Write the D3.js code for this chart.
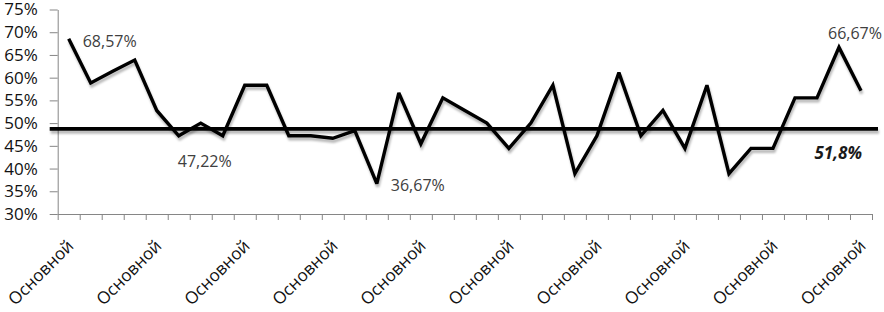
<!DOCTYPE html>
<html>
<head>
<meta charset="utf-8">
<script src="https://cdn.jsdelivr.net/npm/d3@7"></script>
<style>
  html, body { margin: 0; padding: 0; background: #fff; }
  svg { display: block; }
</style>
</head>
<body>
<div id="chart"></div>
<script>
// ---- data ----
const categoryLabel = "Основной";
const categories = Array.from({length: 37}, () => categoryLabel);
const values = [68.57, 58.82, 61.40, 63.89, 52.78, 47.22, 50.00, 47.22, 58.33, 58.33,
                47.22, 47.22, 46.67, 48.33, 36.67, 56.67, 45.45, 55.56, 52.78, 50.00,
                44.44, 50.00, 58.33, 38.89, 47.22, 61.11, 47.22, 52.78, 44.44, 58.33,
                38.89, 44.44, 44.44, 55.56, 55.56, 66.67, 57.14];
const yTicks = [30, 35, 40, 45, 50, 55, 60, 65, 70, 75];
const labelEvery = 4;
const meanLineValue = 48.75;
const meanLabel = "51,8%";
const pointLabelIndex = [0, 5, 14, 35];
const pointLabelText = ["68,57%", "47,22%", "36,67%", "66,67%"];

// ---- layout ----
const W = 884, H = 312;
const plot = {left: 57.7, right: 872, top: 9.5, bottom: 214};
const FONT = "'Open Sans', 'Liberation Sans', sans-serif";

const svg = d3.select("#chart").append("svg").attr("width", W).attr("height", H);

const defs = svg.append("defs");
const f = defs.append("filter").attr("id", "shadow")
  .attr("filterUnits", "userSpaceOnUse")
  .attr("x", 0).attr("y", 0).attr("width", W).attr("height", H);
f.append("feDropShadow").attr("dx", 1).attr("dy", 3).attr("stdDeviation", 1.3)
  .attr("flood-color", "#000").attr("flood-opacity", 0.28);

const x = d3.scaleBand().domain(d3.range(categories.length)).range([plot.left, plot.right]).padding(0);
const xEdge = d3.scaleLinear().domain([0, categories.length]).range([plot.left, plot.right]);
const y = d3.scaleLinear().domain([30, 75]).range([plot.bottom, plot.top]);
const cx = i => x(i) + x.bandwidth() / 2;

// y axis
const yAxis = svg.append("g").attr("transform", `translate(${plot.left},0)`)
  .call(d3.axisLeft(y).tickValues(yTicks).tickSize(8).tickSizeOuter(0).tickPadding(12)
    .tickFormat(d => d + "%"));
yAxis.select(".domain").attr("stroke", "#868686");
yAxis.selectAll(".tick line").attr("stroke", "#868686");
yAxis.selectAll(".tick text").attr("font-family", FONT).attr("font-size", 17).attr("fill", "#111");

// x axis
const xAxis = svg.append("g").attr("transform", `translate(0,${plot.bottom})`)
  .call(d3.axisBottom(xEdge).tickValues(d3.range(categories.length + 1)).tickSize(6)
    .tickSizeOuter(0).tickFormat(""));
xAxis.select(".domain").attr("stroke", "#868686");
xAxis.selectAll(".tick line").attr("stroke", "#868686");

// x labels
svg.append("g").selectAll("text")
  .data(categories.map((c, i) => ({c, i})).filter(d => d.i % labelEvery === 0))
  .join("text")
  .attr("transform", d => `translate(${cx(d.i) + 6},${plot.bottom + 33}) rotate(-45)`)
  .attr("text-anchor", "end")
  .attr("font-family", FONT).attr("font-size", 17).attr("fill", "#111")
  .text(d => d.c);

// mean line
svg.append("line")
  .attr("x1", plot.left - 8).attr("x2", plot.right + 6)
  .attr("y1", y(meanLineValue)).attr("y2", y(meanLineValue))
  .attr("stroke", "#000").attr("stroke-width", 3.8)
  .attr("filter", "url(#shadow)");

// data line
const line = d3.line().x((d, i) => cx(i)).y(d => y(d));
svg.append("path").datum(values)
  .attr("d", line)
  .attr("fill", "none").attr("stroke", "#000").attr("stroke-width", 3.4)
  .attr("stroke-linejoin", "miter").attr("stroke-miterlimit", 3)
  .attr("filter", "url(#shadow)");

// point labels
const labelOffsets = [[14, 2], [-1, 25], [14, 1.5], [-11, -14.5]];
svg.append("g").selectAll("text")
  .data(pointLabelIndex.map((idx, k) => ({idx, t: pointLabelText[k], off: labelOffsets[k]})))
  .join("text")
  .attr("x", d => cx(d.idx) + d.off[0])
  .attr("y", d => y(values[d.idx]) + d.off[1])
  .attr("dominant-baseline", "central")
  .attr("font-family", FONT).attr("font-size", 16).attr("fill", "#404040")
  .text(d => d.t);

// mean label
svg.append("text")
  .attr("x", plot.right - 10).attr("y", y(meanLineValue) + 24)
  .attr("text-anchor", "end").attr("dominant-baseline", "central")
  .attr("font-family", FONT).attr("font-size", 17)
  .attr("font-weight", "bold").attr("font-style", "italic").attr("fill", "#1a1a1a")
  .text(meanLabel);
</script>
</body>
</html>
